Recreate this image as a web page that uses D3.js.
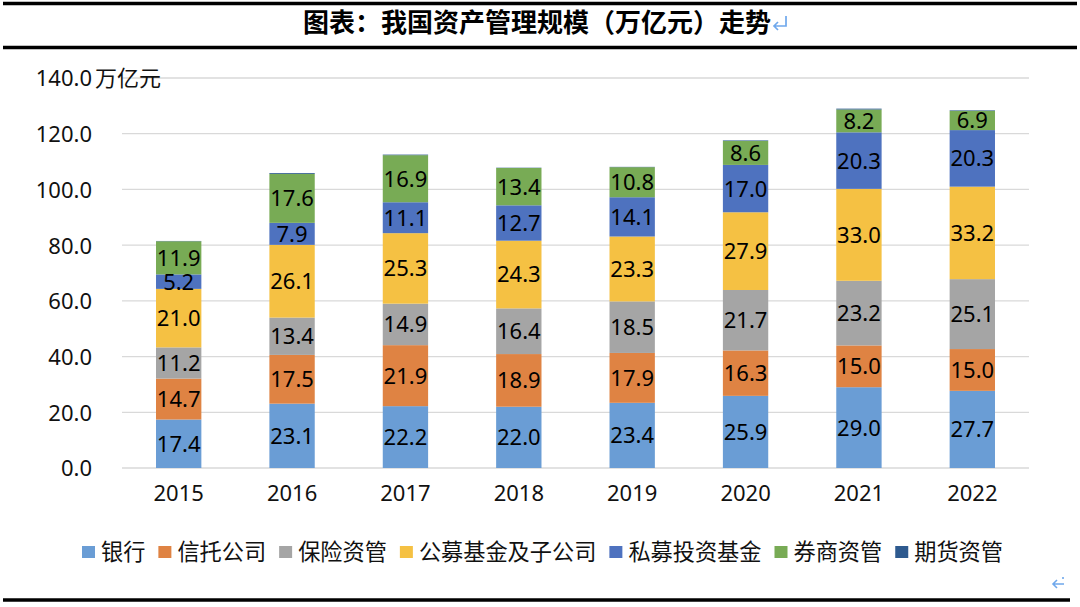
<!DOCTYPE html>
<html><head><meta charset="utf-8">
<script src="https://cdn.jsdelivr.net/npm/d3@7"></script>
<style>
html,body{margin:0;padding:0;background:#fff;}
svg{display:block;}
</style></head>
<body>
<svg id="c" width="1080" height="607"></svg>
<script>
const years = ["2015","2016","2017","2018","2019","2020","2021","2022"];
const seriesNames = ["银行","信托公司","保险资管","公募基金及子公司","私募投资基金","券商资管","期货资管"];
const bank      = [17.4, 23.1, 22.2, 22.0, 23.4, 25.9, 29.0, 27.7];
const trust     = [14.7, 17.5, 21.9, 18.9, 17.9, 16.3, 15.0, 15.0];
const insurance = [11.2, 13.4, 14.9, 16.4, 18.5, 21.7, 23.2, 25.1];
const publicFund= [21.0, 26.1, 25.3, 24.3, 23.3, 27.9, 33.0, 33.2];
const privateFund=[5.2, 7.9, 11.1, 12.7, 14.1, 17.0, 20.3, 20.3];
const broker    = [11.9, 17.6, 16.9, 13.4, 10.8, 8.6, 8.2, 6.9];
const futures   = [0.1, 0.3, 0.2, 0.1, 0.1, 0.2, 0.3, 0.2];
const yTicks = [0, 20, 40, 60, 80, 100, 120, 140];
const colors = ["#6A9DD5","#DF8343","#A5A5A5","#F5C143","#4E72BF","#78AB55","#2E5A8F"];
const showLabel = [true,true,true,true,true,true,false];

const seriesValues = [bank, trust, insurance, publicFund, privateFund, broker, futures];
const rows = years.map((y,i)=>{
  const o = {year:y};
  seriesNames.forEach((s,k)=>{ o[s] = seriesValues[k][i]; });
  return o;
});
const stacked = d3.stack().keys(seriesNames)(rows);

const svg = d3.select("#c");
const numFont = "'Noto Sans', 'DejaVu Sans', sans-serif";
const cjkFont = "'Noto Sans CJK SC', 'Noto Sans', sans-serif";

// frame lines
svg.append("line").attr("x1",3).attr("x2",1077).attr("y1",3.5).attr("y2",3.5).attr("stroke","#000").attr("stroke-width",3.5);
svg.append("line").attr("x1",3).attr("x2",1077).attr("y1",47.5).attr("y2",47.5).attr("stroke","#000").attr("stroke-width",3.5);
svg.append("line").attr("x1",3).attr("x2",1070).attr("y1",600).attr("y2",600).attr("stroke","#000").attr("stroke-width",3.5);

// title
const title = svg.append("text").attr("x",537).attr("y",32).attr("text-anchor","middle")
  .attr("font-family",cjkFont).attr("font-weight",700).attr("font-size",26).attr("fill","#000")
  .text("图表：我国资产管理规模（万亿元）走势");
const tb = title.node().getBBox();
const ax = tb.x + tb.width + 1, ay = 22;
svg.append("path").attr("d",`M${ax+14},${ay-6} V${ay+4} H${ax+2} M${ax+6},${ay} L${ax+2},${ay+4} L${ax+6},${ay+8}`)
  .attr("fill","none").attr("stroke","#6FA8EC").attr("stroke-width",1.7);

// bottom arrow
svg.append("path").attr("d","M1064,584 H1053 M1057,580 L1053,584 L1057,588 M1063,577 V579")
  .attr("fill","none").attr("stroke","#6FA8EC").attr("stroke-width",1.6);

const x = d3.scaleBand().domain(years).range([122,1029]).padding(0);
const y = d3.scaleLinear().domain([0,140]).range([468,78]);
const barW = x.bandwidth()*0.4;

// gridlines
svg.append("g").selectAll("line").data(yTicks).join("line")
  .attr("x1",122).attr("x2",1029).attr("y1",d=>y(d)).attr("y2",d=>y(d))
  .attr("stroke","#D9D9D9").attr("stroke-width",1.3);

// y axis
const yAxis = svg.append("g").attr("transform","translate(92,0)")
  .call(d3.axisLeft(y).tickValues(yTicks).tickFormat(d3.format(".1f")).tickSize(0).tickPadding(0));
yAxis.select(".domain").remove();
yAxis.selectAll("text").attr("font-family",numFont).attr("font-size",22).attr("fill","#111").attr("dy","0.36em");
svg.append("text").attr("x",95).attr("y",y(140)).attr("dy","0.36em").attr("font-family",cjkFont)
  .attr("font-size",22).attr("fill","#111").text("万亿元");

// x axis
const xAxis = svg.append("g").attr("transform","translate(0,468)")
  .call(d3.axisBottom(x).tickSize(0).tickPadding(25));
xAxis.select(".domain").remove();
xAxis.selectAll("text").attr("font-family",numFont).attr("font-size",22).attr("fill","#111").attr("dy","0.36em");

// bars
const layers = svg.append("g").selectAll("g").data(stacked).join("g")
  .attr("fill",(d,i)=>colors[i]);
layers.selectAll("rect").data(d=>d).join("rect")
  .attr("x",d=>x(d.data.year)+x.bandwidth()/2-barW/2)
  .attr("width",barW)
  .attr("y",d=>y(d[1]))
  .attr("height",d=>y(d[0])-y(d[1]));

// labels
stacked.forEach((layer,i)=>{
  if(!showLabel[i]) return;
  svg.append("g").selectAll("text").data(layer).join("text")
    .attr("x",d=>x(d.data.year)+x.bandwidth()/2)
    .attr("y",d=>(y(d[0])+y(d[1]))/2)
    .attr("dy","0.36em")
    .attr("text-anchor","middle")
    .attr("font-family",numFont).attr("font-size",22).attr("fill","#000")
    .text(d=>d3.format(".1f")(d[1]-d[0]));
});

// legend
const legend = svg.append("g");
let lx = 82;
seriesNames.forEach((s,i)=>{
  legend.append("rect").attr("x",lx).attr("y",546).attr("width",13).attr("height",12).attr("fill",colors[i]);
  const t = legend.append("text").attr("x",lx+19).attr("y",552).attr("dy","0.36em")
    .attr("font-family",cjkFont).attr("font-size",22.2).attr("fill","#111").text(s);
  lx += 19 + t.node().getComputedTextLength() + 13;
});
</script>
</body></html>
